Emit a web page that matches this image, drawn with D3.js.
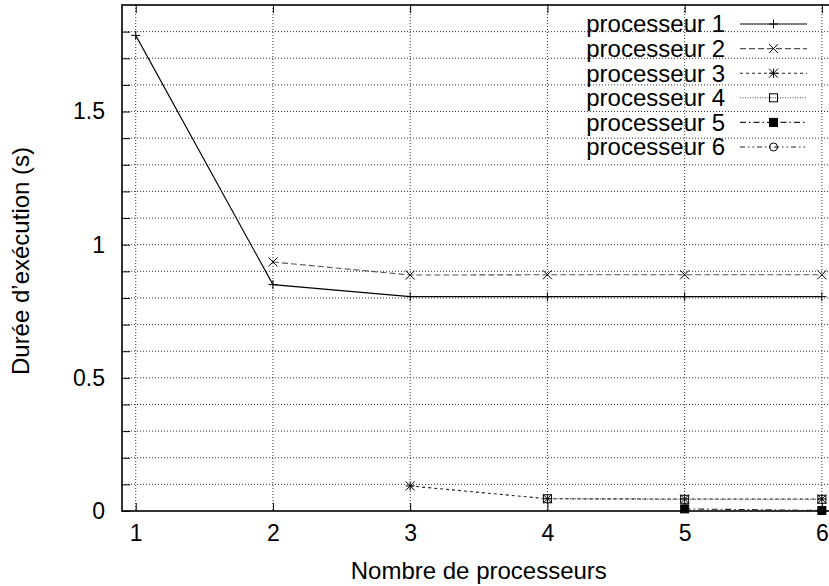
<!DOCTYPE html>
<html>
<head>
<meta charset="utf-8">
<script src="https://cdn.jsdelivr.net/npm/d3@7"></script>
<style>
body { margin: 0; background: #fff; }
svg { display: block; font-family: "Liberation Sans", Arial, sans-serif; }
</style>
</head>
<body>
<script>
// values
var nbProc = [1, 2, 3, 4, 5, 6];
var names = ["processeur 1", "processeur 2", "processeur 3", "processeur 4", "processeur 5", "processeur 6"];
var p1 = [1.786, 0.850, 0.805, 0.805, 0.805, 0.805];
var p2 = [null, 0.935, 0.886, 0.887, 0.887, 0.887];
var p3 = [null, null, 0.094, 0.046, 0.045, 0.045];
var p4 = [null, null, null, 0.046, 0.044, 0.044];
var p5 = [null, null, null, null, 0.008, 0.002];
var p6 = [null, null, null, null, null, 0.003];
var yTicks = [0, 0.5, 1, 1.5];

var series = [p1, p2, p3, p4, p5, p6];
var dashes = ["none", "6,3", "3,3", "1,1.5", "6,3,1.5,3", "5,3,1.5,3,1.5,3"];
var strokes = ["#000", "#555", "#222", "#444", "#222", "#222"];
var marks = ["plus", "cross", "star", "square", "fsquare", "circle"];

var w = 829, h = 586;
var mLeft = 122, mTop = 5, mRight = 835.6, mBottom = 511;

var svg = d3.select("body").append("svg")
    .attr("width", w)
    .attr("height", h);

var x = d3.scaleLinear().domain([0.9, 6.1]).range([mLeft, mRight]);
var y = d3.scaleLinear().domain([0, 1.9]).range([mBottom, mTop]);

// grid
var minor = d3.range(0, 19).map(function(i) { return i / 10; });
svg.append("g").selectAll("line")
    .data(minor.filter(function(d) { return d > 0; }))
    .enter().append("line")
    .attr("x1", mLeft).attr("x2", mRight)
    .attr("y1", function(d) { return y(d); })
    .attr("y2", function(d) { return y(d); })
    .attr("stroke", "#333").attr("stroke-width", 1)
    .attr("stroke-dasharray", "1,2");

svg.append("g").selectAll("line")
    .data(nbProc)
    .enter().append("line")
    .attr("x1", function(d) { return x(d); })
    .attr("x2", function(d) { return x(d); })
    .attr("y1", mTop).attr("y2", mBottom)
    .attr("stroke", "#333").attr("stroke-width", 1)
    .attr("stroke-dasharray", "1,2");

// axes (ticks inward)
var yAxis = d3.axisLeft(y).tickValues(minor).tickSize(-8)
    .tickFormat(function(d) { return yTicks.indexOf(d) >= 0 ? d3.format("")(d) : ""; });
var gy = svg.append("g").attr("transform", "translate(" + mLeft + ",0)").call(yAxis);
gy.select(".domain").remove();
gy.selectAll("text").attr("x", -17).attr("font-size", 23)
    .attr("font-family", "Liberation Sans, Arial, sans-serif").attr("fill", "#000");

var xAxis = d3.axisBottom(x).tickValues(nbProc).tickSize(-8).tickFormat(d3.format("d"));
var gx = svg.append("g").attr("transform", "translate(0," + mBottom + ")").call(xAxis);
gx.select(".domain").remove();
gx.selectAll("text").attr("y", 14).attr("font-size", 23)
    .attr("font-family", "Liberation Sans, Arial, sans-serif").attr("fill", "#000");

var gxt = svg.append("g").attr("transform", "translate(0," + mTop + ")")
    .call(d3.axisTop(x).tickValues(nbProc).tickSize(-8).tickFormat(""));
gxt.select(".domain").remove();

// frame
svg.append("rect")
    .attr("x", mLeft).attr("y", mTop)
    .attr("width", mRight - mLeft).attr("height", mBottom - mTop)
    .attr("fill", "none").attr("stroke", "#000").attr("stroke-width", 1.6);

function marker(g, kind, cx, cy) {
  var s = 4.5;
  if (kind == "plus" || kind == "star") {
    g.append("path").attr("d", "M" + (cx - s) + "," + cy + "H" + (cx + s) + "M" + cx + "," + (cy - s) + "V" + (cy + s))
      .attr("stroke", "#000").attr("stroke-width", 1);
  }
  if (kind == "cross" || kind == "star") {
    g.append("path").attr("d", "M" + (cx - s) + "," + (cy - s) + "L" + (cx + s) + "," + (cy + s) + "M" + (cx - s) + "," + (cy + s) + "L" + (cx + s) + "," + (cy - s))
      .attr("stroke", "#000").attr("stroke-width", 1);
  }
  if (kind == "square" || kind == "fsquare") {
    g.append("rect").attr("x", cx - 4).attr("y", cy - 4).attr("width", 8).attr("height", 8)
      .attr("fill", kind == "fsquare" ? "#000" : "none").attr("stroke", "#000").attr("stroke-width", 1);
  }
  if (kind == "circle") {
    g.append("circle").attr("cx", cx).attr("cy", cy).attr("r", 4)
      .attr("fill", "none").attr("stroke", "#000").attr("stroke-width", 1);
  }
}

var line = d3.line()
    .defined(function(d) { return d[1] != null; })
    .x(function(d) { return x(d[0]); })
    .y(function(d) { return y(d[1]); });

var plot = svg.append("g");
series.forEach(function(s, i) {
  var pts = nbProc.map(function(n, j) { return [n, s[j]]; });
  plot.append("path")
    .attr("d", line(pts))
    .attr("fill", "none")
    .attr("stroke", strokes[i])
    .attr("stroke-width", 1.1)
    .attr("stroke-dasharray", dashes[i]);
  pts.filter(function(p) { return p[1] != null; }).forEach(function(p) {
    marker(plot, marks[i], x(p[0]), y(p[1]));
  });
});

// legend
var leg = svg.append("g");
names.forEach(function(nm, i) {
  var ly = 24 + i * 24.6;
  leg.append("text")
    .attr("x", 725).attr("y", ly).attr("dy", "0.35em")
    .attr("text-anchor", "end").attr("font-size", 24)
    .text(nm);
  leg.append("line")
    .attr("x1", 740).attr("x2", 807).attr("y1", ly).attr("y2", ly)
    .attr("stroke", strokes[i]).attr("stroke-width", 1.1)
    .attr("stroke-dasharray", dashes[i]);
  marker(leg, marks[i], 773.5, ly);
});

// axis titles
svg.append("text")
  .attr("x", (mLeft + mRight) / 2).attr("y", 579)
  .attr("text-anchor", "middle").attr("font-size", 24)
  .text("Nombre de processeurs");

svg.append("text")
  .attr("transform", "translate(29," + ((mTop + mBottom) / 2 + 3) + ") rotate(-90)")
  .attr("text-anchor", "middle").attr("font-size", 24)
  .text("Durée d’exécution (s)");
</script>
</body>
</html>
